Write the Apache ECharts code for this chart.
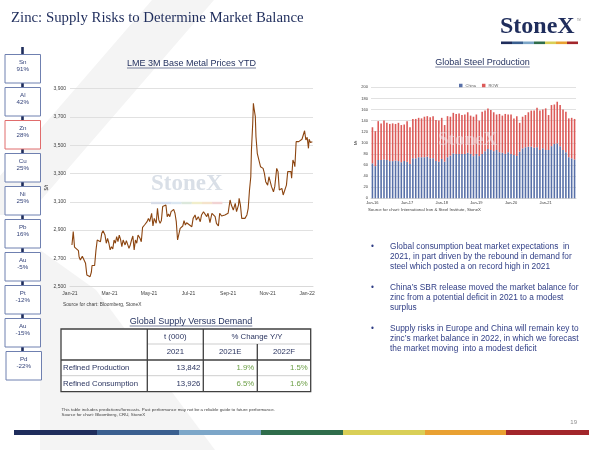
<!DOCTYPE html>
<html>
<head>
<meta charset="utf-8">
<script src="https://cdn.jsdelivr.net/npm/echarts@6.0.0/dist/echarts.min.js"></script>
<style>
html,body{margin:0;padding:0;background:#fff;}
#main{width:600px;height:450px;}
</style>
</head>
<body>
<div id="main"></div>
<script>
// sidebar: YTD change by metal
var sideMetals = ['Sn', 'Al', 'Zn', 'Cu', 'Ni', 'Pb', 'Au', 'Pt', 'Au', 'Pd'];
var sideChange = ['91%', '42%', '28%', '25%', '25%', '16%', '-5%', '-12%', '-15%', '-22%'];

// LME 3M zinc ($/t), x = days since 1 Jan 2021
var priceDay = [3, 5, 7, 10, 13, 14, 16, 19, 22, 24, 26, 28, 31, 33, 34, 36, 38, 40, 42, 45,
  47, 49, 51, 54, 56, 58, 60, 62, 64, 66, 68, 70, 72, 74, 76, 78, 80, 82, 85, 87,
  91, 93, 95, 97, 99, 101, 103, 105, 108, 110, 112, 115, 117, 119, 121, 123, 126, 128, 130, 133,
  135, 137, 139, 141, 143, 145, 148, 150, 152, 154, 156, 160, 162, 164, 166, 168, 170, 172, 174, 176,
  178, 180, 183, 188, 190, 193, 195, 198, 201, 203, 206, 208, 211, 213, 216, 219, 221, 224, 226, 229,
  231, 234, 237, 239, 242, 244, 247, 249, 252, 255, 257, 260, 261, 263, 265, 268, 270, 273, 275, 277,
  279, 280, 282, 283, 284, 286, 287, 289, 291, 292, 294, 296, 298, 300, 302, 305, 307, 309, 311, 314,
  316, 319, 321, 323, 325, 327, 329, 332, 334, 336, 338, 341, 342, 344, 346, 347, 349, 351, 353, 355,
  358, 360, 362, 364, 366, 368, 369, 371, 374];
var zincPrice = [2795, 2889, 2780, 2771, 2755, 2712, 2688, 2715, 2705, 2665, 2583, 2576, 2571, 2604, 2650, 2660, 2650, 2755, 2830, 2842,
  2818, 2877, 2895, 2865, 2807, 2842, 2807, 2760, 2783, 2767, 2830, 2807, 2854, 2818, 2865, 2834, 2783, 2830, 2795, 2826,
  2771, 2795, 2830, 2858, 2760, 2830, 2807, 2865, 2842, 2818, 2920, 2936, 2929, 2960, 2983, 2960, 3019, 2929, 2983, 2948,
  3054, 2972, 2948, 2967, 3066, 3070, 3077, 2995, 3014, 2995, 3030, 3047, 3019, 2960, 2830, 2842, 2912, 2900, 2929, 2967,
  2936, 2952, 2948, 2924, 2983, 3007, 2971, 2995, 2959, 3007, 3030, 3042, 2995, 3019, 2953, 3019, 3030, 2995, 2948, 2929,
  3019, 3000, 2995, 3007, 2995, 3019, 3113, 3077, 3042, 3089, 3030, 3077, 3125, 3077, 2983, 2995, 2983, 3007, 3054, 3183,
  3277, 3466, 3655, 3796, 3761, 3702, 3560, 3443, 3454, 3431, 3348, 3360, 3336, 3301, 3242, 3218, 3277, 3242, 3207, 3171,
  3207, 3336, 3313, 3183, 3188, 3195, 3148, 3160, 3218, 3313, 3324, 3313, 3266, 3395, 3372, 3348, 3525, 3513, 3525, 3513,
  3542, 3572, 3602, 3537, 3556, 3478, 3542, 3519, 3525];
var priceMonths = ['Jan-21', 'Mar-21', 'May-21', 'Jul-21', 'Sep-21', 'Nov-21', 'Jan-22'];

// global steel production (Mt), Jan-16 .. Nov-21
var steelYears = ['16', '17', '18', '19', '20', '21'];
var chinaMt = [63, 58, 69, 69, 70, 69, 67, 67, 68, 67, 65, 67,
  66, 62, 72, 72, 74, 74, 74, 75, 72, 72, 67, 66,
  71, 66, 74, 77, 81, 80, 80, 80, 80, 82, 80, 76,
  80, 76, 80, 85, 89, 87, 85, 87, 83, 82, 80, 83,
  80, 78, 76, 84, 90, 92, 93, 93, 91, 92, 87, 90,
  87, 87, 94, 98, 99, 94, 87, 83, 74, 72, 70];
var rowMt = [65, 63, 70, 66, 70, 67, 67, 68, 66, 69, 67, 66,
  73, 66, 71, 71, 71, 70, 73, 73, 74, 76, 74, 74,
  74, 66, 74, 70, 73, 72, 73, 70, 71, 73, 69, 71,
  71, 64, 76, 73, 73, 72, 70, 64, 69, 67, 72, 68,
  71, 66, 72, 52, 57, 58, 62, 65, 67, 71, 71, 70,
  75, 63, 74, 71, 75, 74, 73, 73, 70, 73, 73];

// supply / demand table
var tableYears = ['2021', '2021E', '2022F'];
var tableLabels = ['Refined Production', 'Refined Consumption'];
var tableVolume = ['13,842', '13,926'];
var tableChg2021 = ['1.9%', '6.5%'];
var tableChg2022 = ['1.5%', '1.6%'];

var bullets = [
  ['Global consumption beat market expectations  in', '2021, in part driven by the rebound in demand for', 'steel which posted a on record high in 2021'],
  ['China\u2019s SBR release moved the market balance for', 'zinc from a potential deficit in 2021 to a modest', 'surplus'],
  ['Supply risks in Europe and China will remain key to', 'zinc\u2019s market balance in 2022, in which we forecast', 'the market moving  into a modest deficit']
];

var monthNames = ['Jan', 'Feb', 'Mar', 'Apr', 'May', 'Jun', 'Jul', 'Aug', 'Sep', 'Oct', 'Nov', 'Dec'];
var steelMonths = [];
steelYears.forEach(function (y) {
  monthNames.forEach(function (m) {
    if (steelMonths.length < chinaMt.length) steelMonths.push(m + '-' + y);
  });
});

var SANS = '"Liberation Sans", Arial, sans-serif';
var SERIF = '"Liberation Serif", "Times New Roman", serif';
var NAVY = '#1f2d5c';

var mctx = document.createElement('canvas').getContext('2d');
function textW(s, size) {
  mctx.font = size + 'px ' + SANS;
  return mctx.measureText(s).width;
}

function txt(x, y, s, size, color, align, font, weight) {
  return {
    type: 'text', x: x, y: y, z: 5,
    style: {
      text: s, fill: color, fontSize: size, fontFamily: font || SANS,
      fontWeight: weight || 'normal', align: align || 'left', verticalAlign: 'middle'
    }
  };
}
function ln(x1, y1, x2, y2, color, w, z) {
  return { type: 'line', z: z || 4, shape: { x1: x1, y1: y1, x2: x2, y2: y2 }, style: { stroke: color, lineWidth: w } };
}
function box(x, y, w, h, fill) {
  return { type: 'rect', z: 3, shape: { x: x, y: y, width: w, height: h }, style: { fill: fill } };
}
function underlined(cx, y, s, size) {
  var w = textW(s, size);
  return [txt(cx, y, s, size, NAVY, 'center'), ln(cx - w / 2, y + size * 0.5, cx + w / 2, y + size * 0.5, NAVY, 0.6)];
}

var g = [];
// faint background diagonals
g.push({ type: 'polygon', z: -10, shape: { points: [[152, 0], [214, 0], [28, 215], [-34, 215]] }, style: { fill: '#f4f4f4' } });
g.push({ type: 'polygon', z: -10, shape: { points: [[40, 250], [96, 290], [215, 450], [40, 450]] }, style: { fill: '#f4f4f4' } });

// title and logo
g.push(txt(11, 18, 'Zinc: Supply Risks to Determine Market Balance', 14.8, NAVY, 'left', SERIF));
g.push(txt(500, 27, 'StoneX', 24, NAVY, 'left', SERIF, 'bold'));
g.push(txt(577, 20, 'TM', 2.6, '#7f7f7f', 'left'));
var brand = ['#1f2d5c', '#3a5f8f', '#7ca6c8', '#2f6d4b', '#d9cf57', '#e9a132', '#a2262b'];
brand.forEach(function (c, i) { g.push(box(501 + i * 11, 41.5, 11, 2.6, c)); });

// sidebar
g.push(ln(22.5, 47, 22.5, 352, NAVY, 2.6, 1));
sideMetals.forEach(function (m, i) {
  var top = 54.5 + i * 33;
  var x = i === 9 ? 6 : 5;
  g.push({ type: 'rect', z: 3, shape: { x: x, y: top, width: 35.5, height: 28.5 },
    style: { fill: '#fff', stroke: m === 'Zn' ? '#e06c6c' : '#6f80b0', lineWidth: 1 } });
  g.push(txt(x + 17.75, top + 7.5, m, 6.2, '#34437a', 'center'));
  g.push(txt(x + 17.75, top + 15.2, sideChange[i], 6.2, '#34437a', 'center'));
});

// chart titles
g = g.concat(underlined(191.5, 63.5, 'LME 3M Base Metal Prices YTD', 9));
g = g.concat(underlined(482.5, 62.5, 'Global Steel Production', 9));
g = g.concat(underlined(191, 321.5, 'Global Supply Versus Demand', 9));

// watermarks
g.push(txt(151, 184, 'StoneX', 23, '#d9dfe7', 'left', SERIF, 'bold'));
var pastel = ['#d8dde8', '#d3ddee', '#dbe7f1', '#dce8dc', '#f1eecb', '#f5e3cb', '#f1d3d3'];
pastel.forEach(function (c, i) { g.push(box(151 + i * 10.2, 201.8, 10.2, 2.4, c)); });
g.push(txt(438, 140, 'StoneX', 19, 'rgba(240,232,236,0.55)', 'left', SERIF, 'bold'));

// sources
g.push(txt(63, 305, 'Source for chart: Bloomberg, StoneX', 4.8, '#404040'));
g.push(txt(368, 209.5, 'Source for chart: International Iron & Steel Institute, StoneX', 4.3, '#404040'));
g.push(txt(61.5, 409.3, 'This table includes predictions/forecasts. Past performance may not be a reliable guide to future performance.', 4.4, '#404040'));
g.push(txt(61.5, 414.6, 'Source for chart: Bloomberg, CRU, StoneX', 4.4, '#404040'));

// table
var colX = [61, 147.3, 203.3, 257.3, 310.7];
var rowY = [329, 344, 360, 375.7, 391.7];
var TD = '#404040', TL = '#c0c0c0';
g.push({ type: 'rect', z: 2, shape: { x: colX[0], y: rowY[0], width: colX[4] - colX[0], height: rowY[4] - rowY[0] },
  style: { fill: '#fff' } });
g.push(ln(colX[1], rowY[1], colX[4], rowY[1], TL, 0.8));
g.push(ln(colX[0], rowY[3], colX[4], rowY[3], TL, 0.8));
g.push(ln(colX[0], rowY[2], colX[4], rowY[2], TD, 1.3));
g.push(ln(colX[1], rowY[0], colX[1], rowY[4], TD, 1.3));
g.push(ln(colX[2], rowY[0], colX[2], rowY[4], TD, 1.3));
g.push(ln(colX[3], rowY[1], colX[3], rowY[4], TD, 1.3));
g.push({ type: 'rect', z: 4, shape: { x: colX[0], y: rowY[0], width: colX[4] - colX[0], height: rowY[4] - rowY[0] },
  style: { fill: 'none', stroke: TD, lineWidth: 1.3 } });
var TC = '#2b3560', GREEN = '#6b9e45';
g.push(txt((colX[1] + colX[2]) / 2, 336.8, 't (000)', 7.8, TC, 'center'));
g.push(txt((colX[2] + colX[4]) / 2, 336.8, '% Change Y/Y', 7.8, TC, 'center'));
tableYears.forEach(function (y, i) {
  g.push(txt((colX[i + 1] + colX[i + 2]) / 2, 352.2, y, 7.8, TC, 'center'));
});
tableLabels.forEach(function (l, i) {
  var cy = (rowY[i + 2] + rowY[i + 3]) / 2 + 0.3;
  g.push(txt(63, cy, l, 7.8, TC));
  g.push(txt(colX[2] - 3, cy, tableVolume[i], 7.8, TC, 'right'));
  g.push(txt(colX[3] - 3, cy, tableChg2021[i], 7.8, GREEN, 'right'));
  g.push(txt(colX[4] - 3, cy, tableChg2022[i], 7.8, GREEN, 'right'));
});

// bullets
var bulletTop = [246.7, 287.7, 328.3];
bullets.forEach(function (lines, b) {
  g.push(txt(371, bulletTop[b], '\u2022', 8.3, '#2f3d85'));
  lines.forEach(function (s, k) {
    g.push(txt(390, bulletTop[b] + k * 10.2, s, 8.3, '#2f3d85'));
  });
});

// footer
g.push(txt(577, 422.3, '19', 6, '#8c8c8c', 'right'));
var stripe = [14, 97, 179, 261, 343, 425, 506, 589];
brand.forEach(function (c, i) { g.push(box(stripe[i], 430, stripe[i + 1] - stripe[i], 5, c)); });

var priceData = zincPrice.map(function (v, i) { return [priceDay[i], v]; });
var GRID_C = '#d9d9d9', LAB_C = '#404040';

var option = {
  animation: false,
  backgroundColor: '#fff',
  textStyle: { fontFamily: SANS },
  grid: [
    { left: 70, top: 88.6, width: 243, height: 198.1 },
    { left: 371, top: 87.3, width: 205, height: 111 }
  ],
  legend: {
    data: ['China', 'ROW'], left: 454, top: 78.5, icon: 'rect',
    itemWidth: 3.5, itemHeight: 3.5, itemGap: 6,
    textStyle: { fontSize: 4, color: '#595959', padding: [0, 0, 0, -2] }
  },
  xAxis: [
    {
      type: 'value', gridIndex: 0, min: 0, max: 375, interval: 61,
      axisLine: { show: true, lineStyle: { color: GRID_C } },
      axisTick: { show: false }, splitLine: { show: false },
      axisLabel: {
        fontSize: 5, color: LAB_C, margin: 4,
        formatter: function (v) { return v % 61 === 0 ? priceMonths[v / 61] : ''; }
      }
    },
    {
      type: 'category', gridIndex: 1, data: steelMonths,
      axisLine: { show: true, lineStyle: { color: GRID_C } },
      axisTick: { show: false },
      axisLabel: { interval: 11, fontSize: 4, color: LAB_C, margin: 3 }
    }
  ],
  yAxis: [
    {
      type: 'value', gridIndex: 0, min: 2500, max: 3900, interval: 200,
      name: '$/t', nameLocation: 'middle', nameRotate: 90, nameGap: 12,
      nameTextStyle: { fontSize: 5, color: LAB_C },
      axisLine: { show: false }, axisTick: { show: false },
      splitLine: { lineStyle: { color: GRID_C, width: 0.8 } },
      axisLabel: { fontSize: 5, color: LAB_C, margin: 4,
        formatter: function (v) { return v.toLocaleString('en-US'); } }
    },
    {
      type: 'value', gridIndex: 1, min: 0, max: 200, interval: 20,
      name: 'Mt', nameLocation: 'middle', nameRotate: 90, nameGap: 11,
      nameTextStyle: { fontSize: 4, color: LAB_C },
      axisLine: { show: false }, axisTick: { show: false },
      splitLine: { lineStyle: { color: GRID_C, width: 0.8 } },
      axisLabel: { fontSize: 4, color: LAB_C, margin: 3 }
    }
  ],
  series: [
    {
      name: 'Zinc', type: 'line', xAxisIndex: 0, yAxisIndex: 0, data: priceData,
      showSymbol: false, lineStyle: { color: '#8c4510', width: 1.1 }, z: 3
    },
    {
      name: 'China', type: 'bar', xAxisIndex: 1, yAxisIndex: 1, stack: 'steel', data: chinaMt,
      barCategoryGap: '45%', itemStyle: { color: '#5870a8' }
    },
    {
      name: 'ROW', type: 'bar', xAxisIndex: 1, yAxisIndex: 1, stack: 'steel', data: rowMt,
      barCategoryGap: '45%', itemStyle: { color: '#dc5a58' }
    }
  ],
  graphic: g
};

var chart = echarts.init(document.getElementById('main'));
chart.setOption(option);
</script>
</body>
</html>
